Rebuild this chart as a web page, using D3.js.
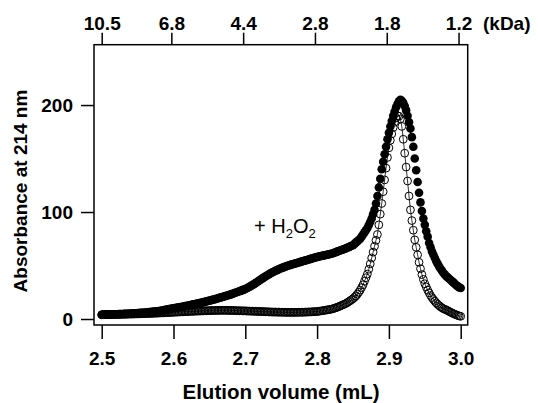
<!DOCTYPE html>
<html>
<head>
<meta charset="utf-8">
<script src="https://cdn.jsdelivr.net/npm/d3@7"></script>
<style>
  body { margin: 0; background: #fff; }
  svg { display: block; font-family: "Liberation Sans", Arial, sans-serif; }
</style>
</head>
<body>
<div id="container"></div>
<script>
// elution volume grid, 0.002 mL steps from 2.500 to 3.000
const volume = d3.range(251).map(i => +(2.5 + i * 0.002).toFixed(3))

// + H2O2 (filled circles)
const treated = [
  4.0,4.0,4.1,4.1,4.2,4.2,4.3,4.3,4.4,4.4,
  4.5,4.5,4.6,4.6,4.7,4.7,4.8,4.8,4.9,4.9,
  5.0,5.1,5.2,5.3,5.4,5.5,5.6,5.7,5.8,5.9,
  6.0,6.1,6.3,6.4,6.6,6.7,6.9,7.0,7.2,7.3,
  7.5,7.7,8.0,8.2,8.5,8.7,9.0,9.2,9.5,9.7,
  10.0,10.2,10.5,10.7,11.0,11.2,11.5,11.7,12.0,12.2,
  12.5,12.8,13.1,13.4,13.7,14.0,14.3,14.6,14.9,15.2,
  15.5,15.8,16.2,16.5,16.9,17.2,17.6,17.9,18.3,18.6,
  19.0,19.4,19.8,20.2,20.6,21.0,21.4,21.8,22.2,22.6,
  23.0,23.5,24.0,24.5,25.0,25.5,26.0,26.5,27.0,27.5,
  28.0,28.7,29.4,30.2,31.0,31.8,32.6,33.5,34.4,35.3,
  36.2,37.1,38.0,38.9,39.8,40.6,41.4,42.2,43.0,43.7,
  44.4,45.1,45.7,46.3,46.9,47.5,48.0,48.5,49.0,49.5,
  50.0,50.4,50.8,51.2,51.6,52.0,52.4,52.8,53.2,53.6,
  54.0,54.4,54.8,55.2,55.6,56.0,56.4,56.8,57.2,57.6,
  58.0,58.3,58.6,58.9,59.2,59.5,59.8,60.1,60.4,60.7,
  61.0,61.5,62.0,62.5,63.0,63.5,64.0,64.5,65.0,65.5,
  66.0,66.6,67.2,67.8,68.4,
  69.0,70.2,71.4,72.6,73.8,
  75.0,77.0,79.0,81.0,83.0,
  85.0,87.8,90.6,94.0,98.0,
  102,108,115,123,131,
  140,147,154,161,168,
  174,180,185,190,194,
  198,201,203.5,205,204,
  202,199,195,190,184,
  178,170,161,150,139,
  128,118,109,101,94,
  88,82,77,71,67,
  63,60,57,54,51.5,
  49,47,45,43,41.5,
  40,38.8,37.6,36.4,35.2,
  34,32.8,31.6,30.5,29.5,
  29
]

// control (open circles)
const control = [
  4.0,4.0,4.1,4.1,4.1,4.2,4.2,4.2,4.2,4.3,
  4.3,4.3,4.4,4.4,4.4,4.5,4.5,4.5,4.5,4.6,
  4.6,4.6,4.7,4.7,4.8,4.8,4.8,4.9,4.9,5.0,
  5.0,5.1,5.1,5.2,5.2,5.3,5.4,5.4,5.5,5.5,
  5.6,5.7,5.7,5.8,5.9,6.0,6.0,6.1,6.2,6.2,
  6.3,6.4,6.4,6.5,6.6,6.7,6.7,6.8,6.9,6.9,
  7.0,7.1,7.1,7.2,7.2,7.3,7.4,7.4,7.5,7.5,
  7.6,7.6,7.7,7.7,7.8,7.8,7.9,7.9,8.0,8.0,
  8.0,8.0,8.1,8.1,8.1,8.1,8.1,8.1,8.0,8.0,
  8.0,8.0,7.9,7.9,7.8,7.8,7.7,7.7,7.6,7.6,
  7.6,7.5,7.4,7.4,7.3,7.3,7.2,7.2,7.1,7.1,
  7.0,7.0,6.9,6.9,6.8,6.8,6.7,6.6,6.6,6.5,
  6.5,6.5,6.4,6.4,6.4,6.3,6.3,6.3,6.2,6.2,
  6.2,6.2,6.2,6.2,6.2,6.2,6.2,6.3,6.3,6.3,
  6.3,6.4,6.4,6.5,6.6,6.6,6.7,6.8,6.9,6.9,
  7.0,7.2,7.4,7.6,7.8,8.0,8.3,8.5,8.8,9.0,
  9.2,9.6,10.0,10.5,11.0,11.5,12.1,12.7,13.3,13.9,
  14.5,15.3,16.2,17.1,18.0,
  19.0,20.2,21.5,23.2,25.0,
  27.0,29.4,32.0,35.3,38.6,
  42.0,46.5,51.5,57,62.5,
  68,73.5,79,88,98,
  108,119,130,141,151,
  160,167,173,179,184,
  188,190,189.5,187,180,
  168,155,142,129,115,
  102,92,83,74,67,
  60,53,47,41.5,37,
  33,30,27,24.5,22,
  20,18.2,16.6,15,13.7,
  12.5,11.4,10.4,9.6,9.0,
  8.5,7.8,7.0,6.3,5.6,
  5.0,4.4,3.8,3.3,2.8,
  2.5
]

const xTicks = [2.5, 2.6, 2.7, 2.8, 2.9, 3.0]
const yTicks = [0, 100, 200]
// molecular mass calibration along the top (elution position -> kDa label)
const kdaPos = [2.5, 2.597, 2.697, 2.797, 2.897, 2.997]
const kdaLabels = ["10.5", "6.8", "4.4", "2.8", "1.8", "1.2"]

const width = 538
const height = 403
const m = { left: 94, right: 467.7, top: 44.7, bottom: 325 }

const xScale = d3.scaleLinear()
  .domain([2.48928, 3.00975])
  .range([m.left, m.right])

const yScale = d3.scaleLinear()
  .domain([-5.6, 256.4])
  .range([m.bottom, m.top])

const svg = d3.select("#container")
  .append("svg")
  .attr("width", width)
  .attr("height", height)

const pts = s => volume.map((v, i) => [v, s[i]])

// control: line + open circles
svg.append("path")
  .datum(pts(control))
  .attr("fill", "none")
  .attr("stroke", "#000")
  .attr("stroke-width", 0.8)
  .attr("d", d3.line().x(d => xScale(d[0])).y(d => yScale(d[1])))

svg.append("g")
  .selectAll("circle")
  .data(pts(control))
  .enter()
  .append("circle")
  .attr("cx", d => xScale(d[0]))
  .attr("cy", d => yScale(d[1]))
  .attr("r", 3.9)
  .attr("fill", "none")
  .attr("stroke", "#000")
  .attr("stroke-width", 1)

// + H2O2: filled circles
svg.append("g")
  .selectAll("circle")
  .data(pts(treated))
  .enter()
  .append("circle")
  .attr("cx", d => xScale(d[0]))
  .attr("cy", d => yScale(d[1]))
  .attr("r", 4.3)
  .attr("fill", "#000")

// frame
svg.append("rect")
  .attr("x", m.left)
  .attr("y", m.top)
  .attr("width", m.right - m.left)
  .attr("height", m.bottom - m.top)
  .attr("fill", "none")
  .attr("stroke", "#000")
  .attr("stroke-width", 1.5)

const xAxis = d3.axisBottom(xScale)
  .tickValues(xTicks)
  .tickFormat(d3.format(".1f"))
  .tickSize(14)
  .tickPadding(12.5)

const yAxis = d3.axisLeft(yScale)
  .tickValues(yTicks)
  .tickFormat(d3.format("d"))
  .tickSize(13)
  .tickPadding(8)

const topAxis = d3.axisTop(xScale)
  .tickValues(kdaPos)
  .tickFormat((d, i) => kdaLabels[i])
  .tickSize(12)
  .tickPadding(3)

function styleAxis(g) {
  g.select(".domain").remove()
  g.selectAll("line").attr("stroke", "#000").attr("stroke-width", 1.5)
  g.selectAll("text")
    .attr("fill", "#000")
    .style("font-size", "19px")
    .style("font-weight", "bold")
    .style("font-family", "'Liberation Sans', Arial, sans-serif")
}

svg.append("g")
  .attr("transform", `translate(0,${m.bottom})`)
  .call(xAxis)
  .call(styleAxis)

svg.append("g")
  .attr("transform", `translate(${m.left},0)`)
  .call(yAxis)
  .call(styleAxis)

svg.append("g")
  .attr("transform", `translate(0,${m.top})`)
  .call(topAxis)
  .call(styleAxis)

svg.append("text")
  .attr("x", 483)
  .attr("y", 30)
  .style("font-size", "19px")
  .style("font-weight", "bold")
  .text("(kDa)")

svg.append("text")
  .attr("x", 281)
  .attr("y", 399)
  .attr("text-anchor", "middle")
  .style("font-size", "20.5px")
  .style("font-weight", "bold")
  .text("Elution volume (mL)")

svg.append("text")
  .attr("transform", "translate(27,191) rotate(-90)")
  .attr("text-anchor", "middle")
  .style("font-size", "19px")
  .style("font-weight", "bold")
  .text("Absorbance at 214 nm")

// annotation
const note = svg.append("text")
  .attr("x", 254)
  .attr("y", 233)
  .style("font-size", "20px")
note.append("tspan").text("+ H")
note.append("tspan").attr("dy", 5).style("font-size", "13px").text("2")
note.append("tspan").attr("dy", -5).text("O")
note.append("tspan").attr("dy", 5).style("font-size", "13px").text("2")
</script>
</body>
</html>
